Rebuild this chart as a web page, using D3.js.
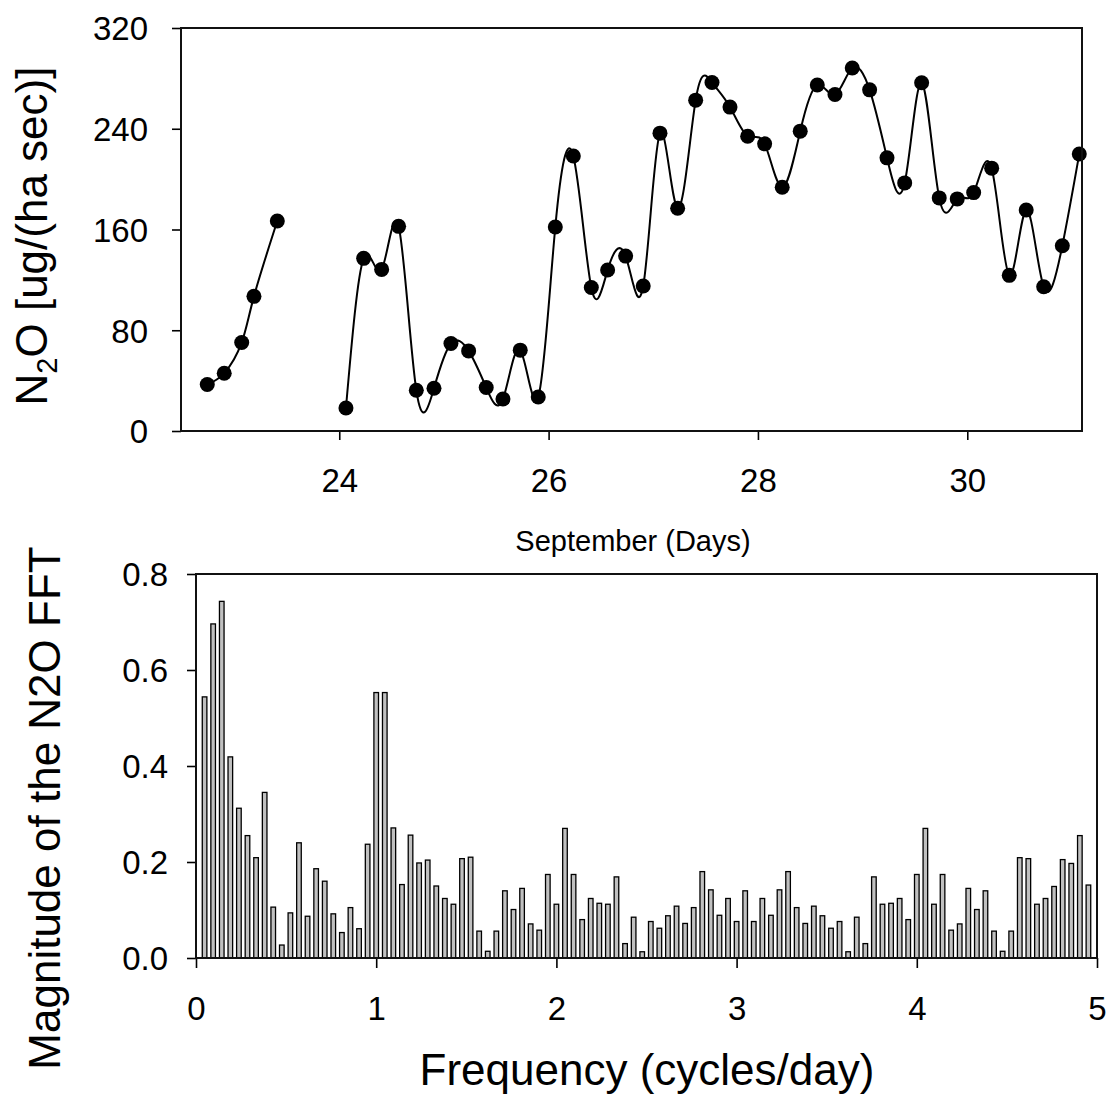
<!DOCTYPE html>
<html><head><meta charset="utf-8">
<script src="https://cdn.jsdelivr.net/npm/d3@7"></script>
<style>body{margin:0;background:#fff}</style>
</head><body><svg id="c" width="1109" height="1098"></svg>
<script>
// ---------- data ----------
const dayTicks = [24, 26, 28, 30];
const fluxTicks = [0, 80, 160, 240, 320];
const seg1Days = [22.739, 22.901, 23.068, 23.185, 23.408];
const seg1Flux = [36.9, 45.9, 70.3, 106.9, 166.8];
const seg2Days = [24.064, 24.233, 24.405, 24.567, 24.736, 24.905, 25.067, 25.236, 25.404, 25.564,
  25.729, 25.901, 26.064, 26.236, 26.408, 26.564, 26.736, 26.904, 27.064, 27.233,
  27.405, 27.561, 27.733, 27.902, 28.064, 28.232, 28.404, 28.567, 28.736, 28.901,
  29.067, 29.233, 29.402, 29.564, 29.732, 29.904, 30.061, 30.233, 30.401, 30.563,
  30.730, 30.908, 31.070];
const seg2Flux = [18.3, 137.1, 128.3, 162.5, 32.4, 34.0, 69.5, 63.6, 34.5, 25.4,
  64.2, 27.0, 162.0, 218.4, 114.0, 127.8, 138.9, 115.1, 236.5, 176.9,
  262.7, 276.7, 257.2, 234.1, 228.0, 193.6, 238.1, 274.7, 267.2, 288.2,
  270.9, 216.9, 197.0, 276.5, 185.1, 184.3, 189.3, 208.7, 123.6, 175.5,
  114.5, 147.1, 220.0];
const freqTicks = [0, 1, 2, 3, 4, 5];
const magTicks = [0.0, 0.2, 0.4, 0.6, 0.8];
const frequencies = [0.0476, 0.0952, 0.1429, 0.1905, 0.2381, 0.2857, 0.3333, 0.3810, 0.4286, 0.4762,
  0.5238, 0.5714, 0.6190, 0.6667, 0.7143, 0.7619, 0.8095, 0.8571, 0.9048, 0.9524,
  1.0000, 1.0476, 1.0952, 1.1429, 1.1905, 1.2381, 1.2857, 1.3333, 1.3810, 1.4286,
  1.4762, 1.5238, 1.5714, 1.6190, 1.6667, 1.7143, 1.7619, 1.8095, 1.8571, 1.9048,
  1.9524, 2.0000, 2.0476, 2.0952, 2.1429, 2.1905, 2.2381, 2.2857, 2.3333, 2.3810,
  2.4286, 2.4762, 2.5238, 2.5714, 2.6190, 2.6667, 2.7143, 2.7619, 2.8095, 2.8571,
  2.9048, 2.9524, 3.0000, 3.0476, 3.0952, 3.1429, 3.1905, 3.2381, 3.2857, 3.3333,
  3.3810, 3.4286, 3.4762, 3.5238, 3.5714, 3.6190, 3.6667, 3.7143, 3.7619, 3.8095,
  3.8571, 3.9048, 3.9524, 4.0000, 4.0476, 4.0952, 4.1429, 4.1905, 4.2381, 4.2857,
  4.3333, 4.3810, 4.4286, 4.4762, 4.5238, 4.5714, 4.6190, 4.6667, 4.7143, 4.7619,
  4.8095, 4.8571, 4.9048, 4.9524];
const magnitudes = [0.544, 0.696, 0.743, 0.419, 0.312, 0.255, 0.209, 0.345, 0.106, 0.027,
  0.094, 0.240, 0.087, 0.186, 0.160, 0.092, 0.053, 0.105, 0.061, 0.237,
  0.553, 0.553, 0.271, 0.153, 0.256, 0.198, 0.204, 0.150, 0.124, 0.112,
  0.207, 0.210, 0.056, 0.014, 0.056, 0.140, 0.101, 0.145, 0.071, 0.058,
  0.174, 0.112, 0.270, 0.174, 0.080, 0.124, 0.114, 0.112, 0.169, 0.030,
  0.085, 0.013, 0.076, 0.062, 0.088, 0.108, 0.072, 0.105, 0.180, 0.142,
  0.089, 0.124, 0.076, 0.140, 0.076, 0.124, 0.089, 0.142, 0.180, 0.105,
  0.072, 0.108, 0.088, 0.062, 0.076, 0.013, 0.085, 0.030, 0.169, 0.112,
  0.114, 0.124, 0.080, 0.174, 0.270, 0.112, 0.174, 0.058, 0.071, 0.145,
  0.101, 0.140, 0.056, 0.014, 0.056, 0.209, 0.207, 0.112, 0.124, 0.149,
  0.205, 0.197, 0.255, 0.152];

// ---------- drawing ----------
const FONT = '"Liberation Sans", Arial, Helvetica, sans-serif';
const svg = d3.select('#c').style('font-family', FONT);

function styleAxis(g, fontSize) {
  g.select('.domain').remove();
  g.selectAll('.tick line').attr('stroke', '#000').attr('stroke-width', 1.6);
  g.selectAll('.tick text').attr('fill', '#000').style('font-size', fontSize + 'px').style('font-family', FONT);
}

// ----- top panel -----
const T = {l: 181, t: 28, r: 1082, b: 431};
const xTop = d3.scaleLinear().domain([22.488, 31.096]).range([T.l, T.r]);
const yTop = d3.scaleLinear().domain([0, 320]).range([T.b, T.t]);

const gxTop = svg.append('g').attr('transform', `translate(0,${T.b})`)
  .call(d3.axisBottom(xTop).tickValues(dayTicks).tickSize(9).tickFormat(d3.format('d')));
styleAxis(gxTop, 33);
gxTop.selectAll('.tick text').attr('y', 61).attr('dy', 0);

const gyTop = svg.append('g').attr('transform', `translate(${T.l},0)`)
  .call(d3.axisLeft(yTop).tickValues(fluxTicks).tickSize(9).tickPadding(24).tickFormat(d3.format('d')));
styleAxis(gyTop, 33);
gyTop.selectAll('.tick text').attr('dy', '0.36em');

const line = d3.line().x(d => xTop(d[0])).y(d => yTop(d[1])).curve(d3.curveNatural);
const seg1 = seg1Days.map((d, i) => [d, seg1Flux[i]]);
const seg2 = seg2Days.map((d, i) => [d, seg2Flux[i]]);
[seg1, seg2].forEach(s => {
  svg.append('path').datum(s).attr('d', line).attr('fill', 'none')
    .attr('stroke', '#000').attr('stroke-width', 2);
});
svg.append('g').selectAll('circle').data(seg1.concat(seg2)).join('circle')
  .attr('cx', d => xTop(d[0])).attr('cy', d => yTop(d[1])).attr('r', 7.5).attr('fill', '#000');

svg.append('rect').attr('x', T.l).attr('y', T.t).attr('width', T.r - T.l).attr('height', T.b - T.t)
  .attr('fill', 'none').attr('stroke', '#111').attr('stroke-width', 2);

const yTitle = svg.append('text').attr('transform', `translate(47,236) rotate(-90)`)
  .attr('text-anchor', 'middle').style('font-size', '44px').attr('fill', '#000');
yTitle.append('tspan').text('N');
yTitle.append('tspan').text('2').style('font-size', '29px').attr('dy', '10');
yTitle.append('tspan').text('O [ug/(ha sec)]').attr('dy', '-10');

svg.append('text').attr('x', 633).attr('y', 551).attr('text-anchor', 'middle')
  .style('font-size', '29px').attr('fill', '#000').text('September (Days)');

// ----- bottom panel -----
const B = {l: 196, t: 574, r: 1097, b: 958};
const xBot = d3.scaleLinear().domain([0, 5]).range([B.l, B.r]);
const yBot = d3.scaleLinear().domain([0, 0.8]).range([B.b, B.t]);

const barW = 4.6;
svg.append('g').selectAll('rect').data(frequencies.map((f, i) => [f, magnitudes[i]])).join('rect')
  .attr('x', d => xBot(d[0]) - barW / 2).attr('y', d => yBot(d[1]))
  .attr('width', barW).attr('height', d => yBot(0) - yBot(d[1]))
  .attr('fill', '#c0c0c0').attr('stroke', '#000').attr('stroke-width', 1.3);

const gxBot = svg.append('g').attr('transform', `translate(0,${B.b})`)
  .call(d3.axisBottom(xBot).tickValues(freqTicks).tickSize(10).tickFormat(d3.format('d')));
styleAxis(gxBot, 33);
gxBot.selectAll('.tick text').attr('y', 62).attr('dy', 0);

const gyBot = svg.append('g').attr('transform', `translate(${B.l},0)`)
  .call(d3.axisLeft(yBot).tickValues(magTicks).tickSize(9).tickPadding(19).tickFormat(d3.format('.1f')));
styleAxis(gyBot, 33);
gyBot.selectAll('.tick text').attr('dy', '0.36em');

svg.append('rect').attr('x', B.l).attr('y', B.t).attr('width', B.r - B.l).attr('height', B.b - B.t)
  .attr('fill', 'none').attr('stroke', '#111').attr('stroke-width', 2);

svg.append('text').attr('transform', `translate(60,808) rotate(-90)`)
  .attr('text-anchor', 'middle').style('font-size', '44px').attr('fill', '#000')
  .text('Magnitude of the N2O FFT');

svg.append('text').attr('x', 647).attr('y', 1085).attr('text-anchor', 'middle')
  .style('font-size', '44px').attr('fill', '#000').text('Frequency (cycles/day)');
</script>
</body></html>
